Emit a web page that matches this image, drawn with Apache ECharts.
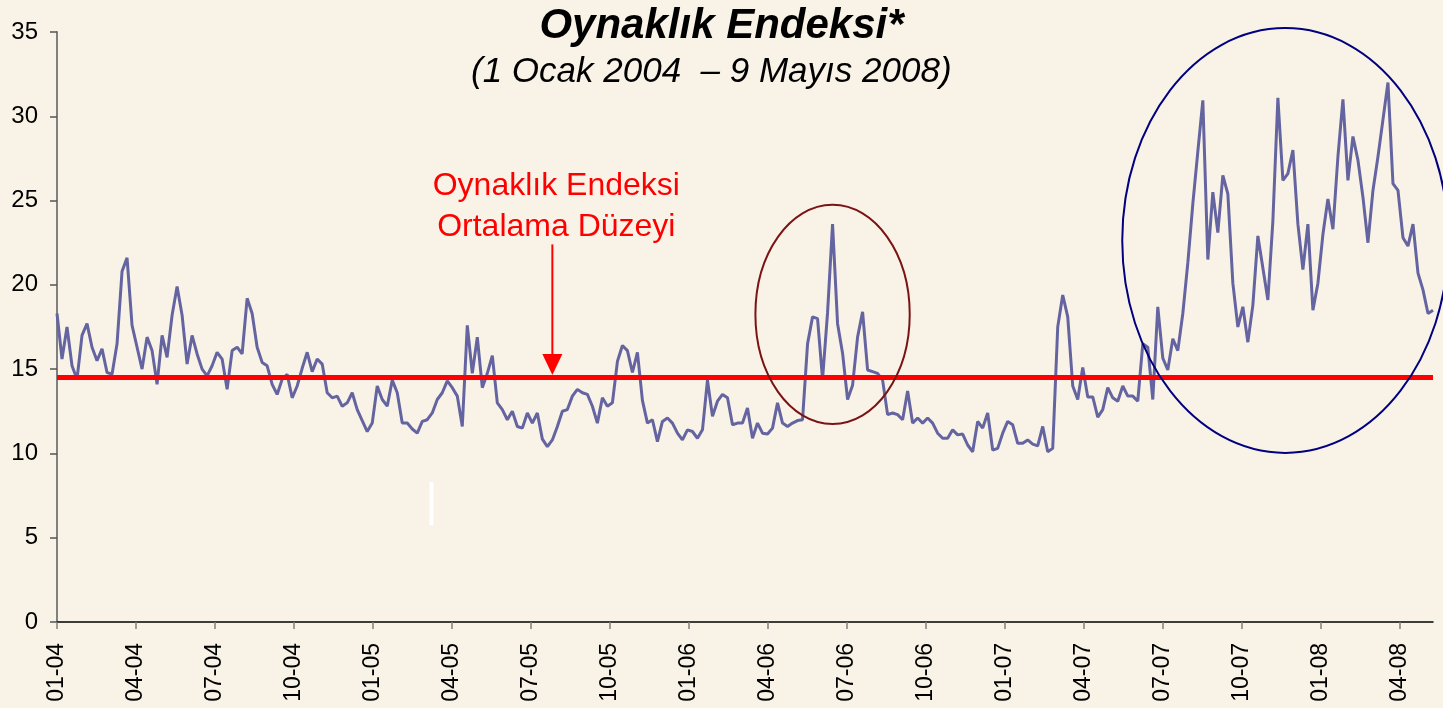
<!DOCTYPE html>
<html lang="tr">
<head>
<meta charset="utf-8">
<title>Oynaklık Endeksi</title>
<script src="https://cdn.jsdelivr.net/npm/echarts@6/dist/echarts.min.js"></script>
<style>
  html, body { margin: 0; padding: 0; background: #f9f3e7; }
  #chart { width: 1443px; height: 708px; }
</style>
</head>
<body>
<div id="chart"></div>
<script>
// quarter labels on the x axis (MM-YY)
const tickLabels = ['01-04', '04-04', '07-04', '10-04', '01-05', '04-05', '07-05', '10-05',
  '01-06', '04-06', '07-06', '10-06', '01-07', '04-07', '07-07', '10-07', '01-08', '04-08']
const monthsPerTick = 3
const lastMonth = 52.25          // 9 May 2008, counted in months from 1 Jan 2004
const meanLevel = 14.5

// index readings, evenly spaced from 1 Jan 2004 to 9 May 2008 (about every 4 trading days)
const indexValues = [
  18.3, 15.6, 17.5, 15.2, 14.4, 17.0, 17.7, 16.3, 15.5, 16.2, 14.8, 14.7,
  16.5, 20.8, 21.6, 17.6, 16.3, 15.0, 16.9, 16.1, 14.1, 17.0, 15.7, 18.2,
  19.9, 18.2, 15.3, 17.0, 15.9, 15.0, 14.6, 15.2, 16.0, 15.6, 13.8, 16.1,
  16.3, 15.9, 19.2, 18.3, 16.3, 15.4, 15.2, 14.1, 13.5, 14.4, 14.7, 13.3, 14.0,
  15.05, 16.0, 14.85, 15.6, 15.3, 13.6, 13.3, 13.4, 12.8, 13.0, 13.6, 12.6,
  11.95, 11.3, 11.8, 14.0, 13.2, 12.8, 14.35, 13.6, 11.8, 11.8, 11.45, 11.2,
  11.9, 12.0, 12.4, 13.2, 13.6, 14.3, 13.9, 13.4, 11.6, 17.6, 14.75, 16.9,
  13.9, 14.75, 15.8, 13.0, 12.6, 12.0, 12.5, 11.6, 11.5, 12.4, 11.8, 12.4,
  10.85, 10.4, 10.8, 11.6, 12.5, 12.6, 13.4, 13.8, 13.6, 13.5, 12.8, 11.8,
  13.3, 12.8, 13.0, 15.45, 16.4, 16.1, 14.8, 16.0, 13.15, 11.8, 12.0, 10.7,
  11.9, 12.1, 11.8, 11.2, 10.8, 11.4, 11.3, 10.9, 11.4, 14.35, 12.2, 13.1,
  13.5, 13.3, 11.7, 11.8, 11.8, 12.7, 10.9, 11.8, 11.2, 11.15, 11.5, 13.0,
  11.8, 11.6, 11.8, 11.95, 12.0, 16.5, 18.1, 18.0, 14.4, 18.35, 23.6, 17.7,
  15.95, 13.2, 14.05, 16.9, 18.4, 14.95, 14.85, 14.75, 14.35, 12.3, 12.4, 12.3,
  12.0, 13.7, 11.8, 12.1, 11.8, 12.1, 11.8, 11.2, 10.9, 10.9, 11.4, 11.1,
  11.15, 10.5, 10.1, 11.9, 11.5, 12.4, 10.2, 10.3, 11.2, 11.9,
  11.7, 10.6, 10.6, 10.8, 10.55, 10.45, 11.6, 10.1, 10.3, 17.5, 19.4, 18.1,
  14.0, 13.2, 15.1, 13.35, 13.35, 12.15, 12.6, 13.9, 13.3, 13.1, 14.0, 13.4,
  13.4, 13.1, 16.5, 16.3, 13.2, 18.7, 15.65, 14.95, 16.8, 16.1, 18.3,
  21.3, 24.8, 27.9, 30.95, 21.5, 25.5, 23.1, 26.5, 25.4, 20.1, 17.5, 18.7,
  16.6, 18.8, 22.9, 21.0, 19.1, 23.8, 31.1, 26.2, 26.6,
  28.0, 23.6, 20.9, 23.6, 18.5, 20.1, 23.0, 25.1, 23.3, 27.6, 31.0, 26.2,
  28.8, 27.4, 25.2, 22.5, 25.6, 27.6, 29.8, 32.0, 26.0, 25.6, 22.8, 22.3,
  23.6, 20.7, 19.7, 18.3, 18.5
]

// annotations, in data units (month, index level)
const arrowX = 18.81
const arrowTop = 22.4
const arrowTip = 14.65
const noteCenter = [18.96, 24.65]
const spikeEllipse = { center: [29.45, 18.25], rx: 2.93, ry: 6.5 }
const recentEllipse = { center: [46.64, 22.63], rx: 6.19, ry: 12.6 }
const whiteMark = { x: 14.22, from: 8.3, to: 5.75 }

const font = '"Liberation Sans", Arial, sans-serif'
const stepMonths = lastMonth / (indexValues.length - 1)
const tickValues = tickLabels.map((_, i) => i * monthsPerTick)

const chart = echarts.init(document.getElementById('chart'))

const option = {
  backgroundColor: '#f9f3e7',
  animation: false,
  title: [
    {
      text: 'Oynaklık Endeksi*',
      left: 'center',
      top: 0,
      textStyle: { fontSize: 42, fontWeight: 'bold', fontStyle: 'italic', fontFamily: font, color: '#000' }
    },
    {
      text: '(1 Ocak 2004  – 9 Mayıs 2008)',
      left: 466,
      top: 50,
      textStyle: { fontSize: 35, fontWeight: 'normal', fontStyle: 'italic', fontFamily: font, color: '#000' }
    }
  ],
  grid: { left: 57, right: 10, top: 32, bottom: 86 },
  xAxis: {
    type: 'value',
    min: 0,
    max: lastMonth,
    axisLine: { lineStyle: { color: '#000', width: 1.5 } },
    axisTick: { show: true, length: 7, customValues: tickValues, lineStyle: { color: '#808080', width: 1.5 } },
    axisLabel: {
      customValues: tickValues,
      rotate: 90,
      margin: 21,
      fontSize: 23,
      fontFamily: font,
      color: '#000',
      formatter: (v) => tickLabels[Math.round(v / monthsPerTick)]
    },
    splitLine: { show: false }
  },
  yAxis: {
    type: 'value',
    min: 0,
    max: 35,
    interval: 5,
    axisLine: { show: true, lineStyle: { color: '#808080', width: 2 } },
    axisTick: { show: true, length: 7, lineStyle: { color: '#555', width: 1.5 } },
    axisLabel: { margin: 19, fontSize: 24, fontFamily: font, color: '#000' },
    splitLine: { show: false }
  },
  series: [
    {
      name: 'Oynaklık Endeksi',
      type: 'line',
      data: indexValues.map((v, i) => [i * stepMonths, v]),
      showSymbol: false,
      lineStyle: { color: '#6464a0', width: 3 },
      markLine: {
        silent: true,
        symbol: 'none',
        label: { show: false },
        lineStyle: { color: '#ff0000', width: 5, type: 'solid' },
        data: [{ yAxis: meanLevel }]
      }
    }
  ]
}

chart.setOption(option)

// annotation shapes placed through the grid's own scales
const toPx = (p) => chart.convertToPixel({ gridIndex: 0 }, p)

const ellipseShape = (e) => {
  const c = toPx(e.center)
  const edge = toPx([e.center[0] + e.rx, e.center[1] + e.ry])
  return { cx: c[0], cy: c[1], rx: edge[0] - c[0], ry: c[1] - edge[1] }
}

const arrowStart = toPx([arrowX, arrowTop])
const arrowEnd = toPx([arrowX, arrowTip])
const notePos = toPx(noteCenter)
const markA = toPx([whiteMark.x, whiteMark.from])
const markB = toPx([whiteMark.x, whiteMark.to])

chart.setOption({
  graphic: [
    {
      type: 'ellipse',
      shape: ellipseShape(spikeEllipse),
      style: { fill: 'none', stroke: '#7a1414', lineWidth: 2 },
      z: 10
    },
    {
      type: 'ellipse',
      shape: ellipseShape(recentEllipse),
      style: { fill: 'none', stroke: '#000080', lineWidth: 2 },
      z: 10
    },
    {
      type: 'line',
      shape: { x1: arrowStart[0], y1: arrowStart[1], x2: arrowEnd[0], y2: arrowEnd[1] - 18 },
      style: { stroke: '#ff0000', lineWidth: 2 },
      z: 10
    },
    {
      type: 'polygon',
      shape: { points: [[arrowEnd[0] - 10, arrowEnd[1] - 21], [arrowEnd[0] + 10, arrowEnd[1] - 21], [arrowEnd[0], arrowEnd[1]]] },
      style: { fill: '#ff0000' },
      z: 10
    },
    {
      type: 'text',
      x: notePos[0],
      y: notePos[1],
      style: {
        text: 'Oynaklık Endeksi\nOrtalama Düzeyi',
        fill: '#ff0000',
        font: '32px ' + font,
        align: 'center',
        verticalAlign: 'middle',
        lineHeight: 41
      },
      z: 10
    },
    {
      type: 'line',
      shape: { x1: markA[0], y1: markA[1], x2: markB[0], y2: markB[1] },
      style: { stroke: '#ffffff', lineWidth: 4 },
      z: 10
    }
  ]
})
</script>
</body>
</html>
